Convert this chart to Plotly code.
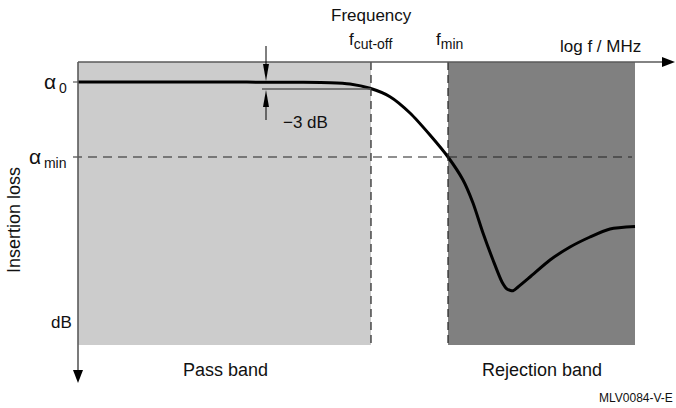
import plotly.graph_objects as go

# ---- data (diagram units: x = log f, y = insertion loss, origin at axis corner) ----
curve_logf = [0, 122, 222, 252, 272, 292, 312, 332, 352, 370, 385, 395, 405, 415, 424, 429, 435, 440, 452, 472, 492, 512, 532, 557]
curve_loss = [20, 20, 20.3, 20.7, 22, 26.3, 34.7, 51, 73, 95, 118, 141, 171, 198, 220, 227, 228.7, 225, 215, 198, 185, 175, 167, 164.5]
f_cutoff = 293
f_min = 370
f_end = 557
alpha_0 = 20
alpha_min = 95
alpha_3db = 27
loss_bottom = 283
x_axis_end = 597
y_axis_end = 321

FONT = "Liberation Sans, Arial, Helvetica, sans-serif"
AXIS_COL = "#5a5a5a"
DASH_COL = "#222222"

fig = go.Figure()

fig.add_trace(go.Scatter(
    x=curve_logf, y=curve_loss, mode="lines",
    line=dict(color="black", width=3, shape="spline", smoothing=0.7),
    hoverinfo="skip", showlegend=False))

shapes = []
# bands
shapes.append(dict(type="rect", xref="x", yref="y", x0=0, x1=f_cutoff, y0=0, y1=loss_bottom,
                   fillcolor="#cccccc", line=dict(width=0), layer="below"))
shapes.append(dict(type="rect", xref="x", yref="y", x0=f_min, x1=f_end, y0=0, y1=loss_bottom,
                   fillcolor="#808080", line=dict(width=0), layer="below"))
# dashed lines
for xv in (f_cutoff, f_min):
    shapes.append(dict(type="line", xref="x", yref="y", x0=xv, x1=xv, y0=0, y1=loss_bottom,
                       line=dict(color=DASH_COL, width=1.2, dash="8px,5px")))
shapes.append(dict(type="line", xref="x", yref="y", x0=-5, x1=f_end - 3, y0=alpha_min, y1=alpha_min,
                   line=dict(color=DASH_COL, width=1.2, dash="9px,6px")))
# alpha0 tick
shapes.append(dict(type="line", xref="x", yref="y", x0=-5, x1=0, y0=alpha_0, y1=alpha_0,
                   line=dict(color=AXIS_COL, width=1.2)))
# -3 dB reference line
shapes.append(dict(type="line", xref="x", yref="y", x0=184, x1=f_cutoff, y0=alpha_3db, y1=alpha_3db,
                   line=dict(color=AXIS_COL, width=1.5)))
# axes
ah = 13  # arrowhead length
aw = 5   # arrowhead half-width
shapes.append(dict(type="line", xref="x", yref="y", x0=0, x1=x_axis_end - ah, y0=0, y1=0,
                   line=dict(color=AXIS_COL, width=1.6)))
shapes.append(dict(type="line", xref="x", yref="y", x0=0, x1=0, y0=0, y1=y_axis_end - ah,
                   line=dict(color=AXIS_COL, width=1.6)))
shapes.append(dict(type="path", xref="x", yref="y",
                   path=f"M {x_axis_end - ah},{-aw} L {x_axis_end},0 L {x_axis_end - ah},{aw} Z",
                   fillcolor="black", line=dict(width=0)))
shapes.append(dict(type="path", xref="x", yref="y",
                   path=f"M {-aw},{y_axis_end - ah} L 0,{y_axis_end} L {aw},{y_axis_end - ah} Z",
                   fillcolor="black", line=dict(width=0)))
# -3 dB arrows
ax3 = 188
shapes.append(dict(type="line", xref="x", yref="y", x0=ax3, x1=ax3, y0=-16, y1=alpha_0 - 16,
                   line=dict(color="black", width=1)))
shapes.append(dict(type="path", xref="x", yref="y",
                   path=f"M {ax3 - 3},{alpha_0 - 18} L {ax3},{alpha_0 - 1} L {ax3 + 3},{alpha_0 - 18} Z",
                   fillcolor="black", line=dict(width=0)))
shapes.append(dict(type="line", xref="x", yref="y", x0=ax3, x1=ax3, y0=alpha_3db + 16, y1=alpha_3db + 31,
                   line=dict(color="black", width=1)))
shapes.append(dict(type="path", xref="x", yref="y",
                   path=f"M {ax3 - 3},{alpha_3db + 18} L {ax3},{alpha_3db + 1} L {ax3 + 3},{alpha_3db + 18} Z",
                   fillcolor="black", line=dict(width=0)))

def ann(x, y, text, size=17, xanchor="center", yanchor="middle", angle=0):
    return dict(x=x, y=y, xref="x", yref="y", text=text, showarrow=False,
                xanchor=xanchor, yanchor=yanchor, textangle=angle,
                font=dict(family=FONT, size=size, color="#111111"))

SUB = "<sub><span style='font-size:14px'>{}</span></sub>"
annotations = [
    ann(f_cutoff, -47, "Frequency"),
    ann(f_cutoff - 1, -8, "f" + SUB.format("cut-off"), yanchor="bottom"),
    ann(f_min + 1, -8, "f" + SUB.format("min"), yanchor="bottom"),
    ann(522, -16, "log f / MHz"),
    ann(-9, alpha_0 + 1, "α" + SUB.format("&#8201;0"), size=21, xanchor="right"),
    ann(-9, alpha_min + 1, "α" + SUB.format("&#8201;min"), size=21, xanchor="right"),
    ann(-4, 260, "dB", xanchor="right"),
    ann(-64, 158, "Insertion loss", size=18, angle=-90),
    ann(227, 60, "−3 dB"),
    ann(147, 308, "Pass band", size=18),
    ann(464, 308, "Rejection band", size=18),
    ann(597, 336, "MLV0084-V-E", size=12, xanchor="right"),
]

fig.update_layout(
    width=676, height=408,
    margin=dict(l=0, r=0, t=0, b=0),
    paper_bgcolor="white", plot_bgcolor="white",
    xaxis=dict(range=[-78, 598], visible=False, fixedrange=True),
    yaxis=dict(range=[346, -62], visible=False, fixedrange=True),
    shapes=shapes, annotations=annotations, showlegend=False,
)

fig.write_html("out.html", config={"displayModeBar": False},
               post_script="document.body.style.margin='0';document.body.style.overflow='hidden';")
